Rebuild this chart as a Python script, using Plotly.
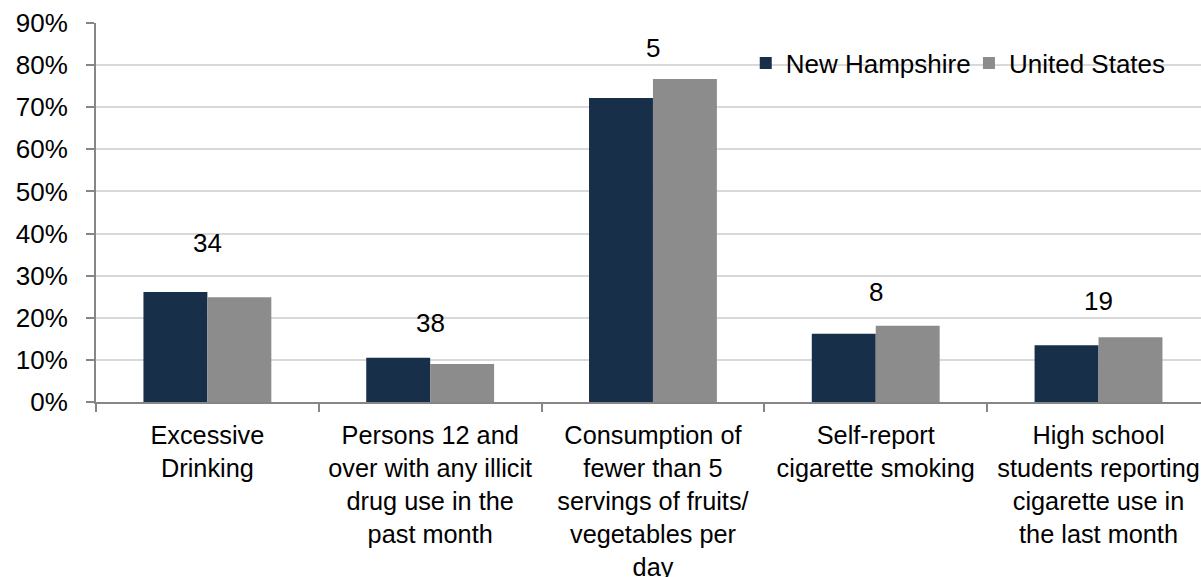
import plotly.graph_objects as go

# Health-behaviour indicators: New Hampshire vs. United States
categories = [
    "Excessive<br>Drinking",
    "Persons 12 and<br>over with any illicit<br>drug use in the<br>past month",
    "Consumption of<br>fewer than 5<br>servings of fruits/<br>vegetables per<br>day",
    "Self-report<br>cigarette smoking",
    "High school<br>students reporting<br>cigarette use in<br>the last month",
]
new_hampshire = [0.261, 0.105, 0.722, 0.162, 0.135]
united_states = [0.249, 0.090, 0.767, 0.181, 0.154]

# State ranking shown above each group, and the height it sits at
ranks = ["34", "38", "5", "8", "19"]
rank_y = [0.378, 0.188, 0.841, 0.261, 0.240]

FONT = "Liberation Sans, Arial, sans-serif"
FONT_SIZE = 26
CAT_FONT_SIZE = 25.3
AXIS_GREY = "#868686"

fig = go.Figure()
fig.add_trace(go.Bar(name="New Hampshire", x=categories, y=new_hampshire,
                     marker=dict(color="#172F49", line=dict(width=0)),
                     hoverinfo="skip", legend="legend"))
fig.add_trace(go.Bar(name="United States", x=categories, y=united_states,
                     marker=dict(color="#8C8C8C", line=dict(width=0)),
                     hoverinfo="skip", legend="legend2"))

for cat, r, ry in zip(categories, ranks, rank_y):
    fig.add_annotation(x=cat, y=ry, text=r, showarrow=False,
                       xanchor="center", yanchor="middle",
                       font=dict(family=FONT, size=FONT_SIZE, color="#000000"))

legend_style = dict(orientation="h", xanchor="left", y=0.894, yanchor="middle",
                    bgcolor="rgba(0,0,0,0)", itemwidth=30,
                    font=dict(family=FONT, size=FONT_SIZE, color="#000000"))

fig.update_layout(
    width=1201, height=577,
    margin=dict(l=96, r=0, t=23, b=175, pad=0),
    paper_bgcolor="white", plot_bgcolor="white",
    barmode="group", bargap=0.426, bargroupgap=0,
    font=dict(family=FONT, size=FONT_SIZE, color="#000000"),
    legend=dict(x=0.588, **legend_style),
    legend2=dict(x=0.790, **legend_style),
    showlegend=True,
)
fig.update_xaxes(
    type="category", range=[-0.5, 4.46], automargin=False, tickangle=0,
    showline=True, linecolor=AXIS_GREY, linewidth=2,
    ticks="outside", tickson="boundaries", ticklen=8, tickwidth=2, tickcolor=AXIS_GREY,
    showgrid=False, ticklabelstandoff=10,
    tickfont=dict(family=FONT, size=CAT_FONT_SIZE, color="#000000"),
)
fig.update_yaxes(
    range=[0, 0.9], dtick=0.1, tickformat=".0%", automargin=False,
    showline=True, linecolor=AXIS_GREY, linewidth=2,
    ticks="outside", ticklen=8, tickwidth=2, tickcolor=AXIS_GREY,
    showgrid=True, gridcolor="#D9D9D9", gridwidth=2, zeroline=False,
    ticklabelstandoff=13,
    tickfont=dict(family=FONT, size=FONT_SIZE, color="#000000"),
)

fig.write_html("out.html")
